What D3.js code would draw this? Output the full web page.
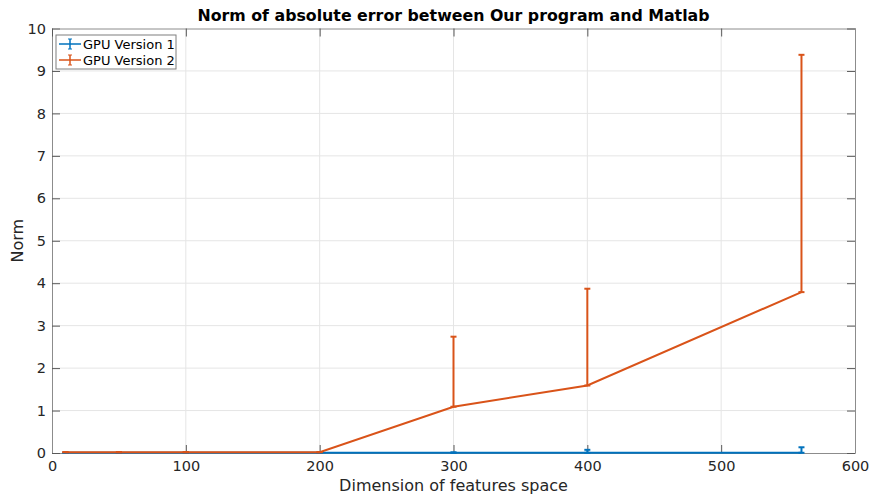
<!DOCTYPE html>
<head>
<meta charset="utf-8">
<script src="https://d3js.org/d3.v7.min.js"></script>
<style>
body { margin: 0; background: white; font-family: 'DejaVu Sans', sans-serif; }
.grid line { stroke: #e5e5e5; stroke-width: 1; }
</style>
</head>
<body>
<div id="plotContainer"></div>
<script>

// data
var dims = [10, 50, 100, 200, 300, 400, 560];
var gpu1 = [0.005, 0.005, 0.005, 0.005, 0.005, 0.005, 0.005];
var gpu1Err = [0, 0, 0, 0, 0.01, 0.07, 0.13];
var gpu2 = [0.02, 0.02, 0.02, 0.02, 1.09, 1.59, 3.79];
var gpu2Err = [0, 0, 0, 0, 1.65, 2.28, 5.59];
var xTicks = [0, 100, 200, 300, 400, 500, 600];
var yTicks = [0, 1, 2, 3, 4, 5, 6, 7, 8, 9, 10];
var seriesNames = ["GPU Version 1", "GPU Version 2"];
var colors = ["#0072bd", "#d95319"];

var W = 869, H = 497;
var margin = {top: 28.5, right: 14, bottom: 44, left: 52};
var width = W - margin.left - margin.right,
    height = H - margin.top - margin.bottom;

var svg = d3.select("#plotContainer").append("svg")
    .attr("width", W).attr("height", H);

var x = d3.scaleLinear().domain([0, 600]).range([0, width]);
var y = d3.scaleLinear().domain([0, 10]).range([height, 0]);

var g = svg.append("g")
    .attr("transform", "translate(" + margin.left + "," + margin.top + ")");

// grid
g.append("g").attr("class", "grid")
  .selectAll("line").data(xTicks.slice(1, -1)).enter().append("line")
    .attr("x1", d => x(d)).attr("x2", d => x(d))
    .attr("y1", 0).attr("y2", height);
g.append("g").attr("class", "grid")
  .selectAll("line").data(yTicks.slice(1, -1)).enter().append("line")
    .attr("y1", d => y(d)).attr("y2", d => y(d))
    .attr("x1", 0).attr("x2", width);

// axes, ticks inside like matlab
var xAxis = g.append("g")
    .attr("transform", "translate(0," + height + ")")
    .call(d3.axisBottom(x).tickValues(xTicks).tickSizeInner(-8).tickSizeOuter(0).tickPadding(12));
var yAxis = g.append("g")
    .call(d3.axisLeft(y).tickValues(yTicks).tickSizeInner(-8).tickSizeOuter(0).tickPadding(12));
g.append("g")
    .call(d3.axisTop(x).tickValues(xTicks).tickSizeInner(-8).tickSizeOuter(0).tickFormat(""));
g.append("g")
    .attr("transform", "translate(" + width + ",0)")
    .call(d3.axisRight(y).tickValues(yTicks).tickSizeInner(-8).tickSizeOuter(0).tickFormat(""));

g.selectAll(".domain").attr("stroke", "#8c8c8c");
g.selectAll(".tick line").attr("stroke", "#595959");
g.selectAll(".tick text")
  .attr("font-family", "'DejaVu Sans', sans-serif")
  .attr("font-size", 14.5)
  .attr("fill", "#262626");
xAxis.selectAll(".tick text").attr("dy", "0.85em").attr("y", 6);
yAxis.selectAll(".tick text").attr("x", -6);

// series
var allSeries = [
  {name: seriesNames[0], vals: gpu1, err: gpu1Err, color: colors[0]},
  {name: seriesNames[1], vals: gpu2, err: gpu2Err, color: colors[1]}
];

var line = d3.line().x((d, i) => x(dims[i])).y(d => y(d));
var cap = 3;

allSeries.forEach(function(s) {
  var sg = g.append("g");
  sg.append("path")
    .datum(s.vals)
    .attr("d", line)
    .attr("fill", "none")
    .attr("stroke", s.color)
    .attr("stroke-width", 2);

  var eb = sg.selectAll(".eb").data(s.vals).enter().append("g");
  eb.append("line")
    .attr("x1", (d, i) => x(dims[i])).attr("x2", (d, i) => x(dims[i]))
    .attr("y1", d => y(d)).attr("y2", (d, i) => y(d + s.err[i]))
    .attr("stroke", s.color).attr("stroke-width", 2);
  eb.append("line")
    .attr("x1", (d, i) => x(dims[i]) - cap).attr("x2", (d, i) => x(dims[i]) + cap)
    .attr("y1", (d, i) => y(d + s.err[i])).attr("y2", (d, i) => y(d + s.err[i]))
    .attr("stroke", s.color).attr("stroke-width", 2);
  eb.append("line")
    .attr("x1", (d, i) => x(dims[i]) - cap).attr("x2", (d, i) => x(dims[i]) + cap)
    .attr("y1", d => y(d)).attr("y2", d => y(d))
    .attr("stroke", s.color).attr("stroke-width", 2);
});

// title and labels
svg.append("text")
  .attr("x", margin.left + width / 2).attr("y", 21)
  .attr("text-anchor", "middle")
  .attr("font-weight", "bold").attr("font-size", 15.8)
  .attr("fill", "#000")
  .text("Norm of absolute error between Our program and Matlab");

svg.append("text")
  .attr("x", margin.left + width / 2).attr("y", 491)
  .attr("text-anchor", "middle")
  .attr("font-size", 16).attr("fill", "#262626")
  .text("Dimension of features space");

svg.append("text")
  .attr("transform", "translate(23," + (margin.top + height / 2) + ") rotate(-90)")
  .attr("text-anchor", "middle")
  .attr("font-size", 16).attr("fill", "#262626")
  .text("Norm");

// legend
var lg = svg.append("g").attr("transform", "translate(56,35)");
lg.append("rect")
  .attr("width", 120).attr("height", 34)
  .attr("fill", "white").attr("stroke", "#7f7f7f");
allSeries.forEach(function(s, i) {
  var ly = 9 + i * 16;
  lg.append("line").attr("x1", 3).attr("x2", 25).attr("y1", ly).attr("y2", ly)
    .attr("stroke", s.color).attr("stroke-width", 1.5);
  lg.append("line").attr("x1", 14).attr("x2", 14).attr("y1", ly - 5).attr("y2", ly + 5)
    .attr("stroke", s.color).attr("stroke-width", 1.5);
  lg.append("line").attr("x1", 12).attr("x2", 16).attr("y1", ly - 5).attr("y2", ly - 5)
    .attr("stroke", s.color).attr("stroke-width", 1);
  lg.append("line").attr("x1", 12).attr("x2", 16).attr("y1", ly + 5).attr("y2", ly + 5)
    .attr("stroke", s.color).attr("stroke-width", 1);
  lg.append("text").attr("x", 27).attr("y", ly + 4.5)
    .attr("font-size", 13).attr("fill", "#000")
    .text(s.name);
});

</script>
</body>
